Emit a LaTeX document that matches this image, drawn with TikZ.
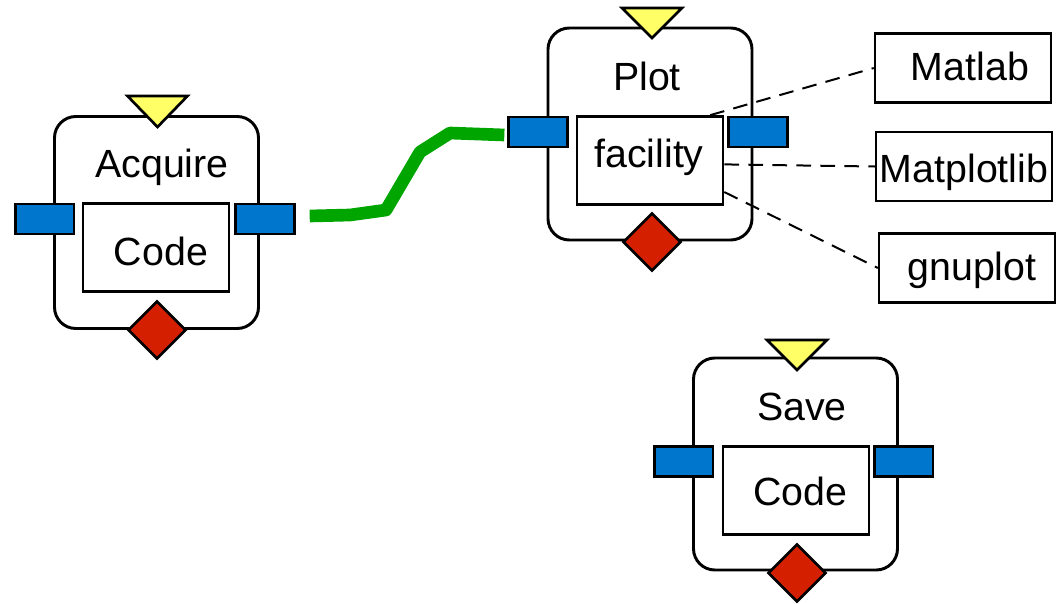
\documentclass[tikz,border=0pt]{standalone}
\usepackage{fontspec}
\setmainfont{Liberation Sans}
\usetikzlibrary{shapes.geometric,calc}
\definecolor{portblue}{RGB}{0,119,204}
\definecolor{triyellow}{RGB}{255,255,102}
\definecolor{diared}{RGB}{212,32,0}
\definecolor{wiregreen}{RGB}{0,165,0}
\tikzset{
  outerbox/.style={draw, line width=2.2pt, rounded corners=16pt, minimum width=153pt, minimum height=159pt, inner sep=0pt},
  innerbox/.style={draw, line width=2pt, fill=white, minimum width=109.5pt, minimum height=66pt, inner sep=0pt},
  portbox/.style={draw, line width=2pt, fill=portblue, minimum width=44pt, minimum height=22.5pt, inner sep=0pt},
  extbox/.style={draw, line width=1.8pt, fill=white, minimum width=132pt, minimum height=52pt, inner sep=0pt},
  errdia/.style={draw, line width=2pt, fill=diared, diamond, aspect=1, minimum size=43.5pt, inner sep=0pt},
  trishape/.style={draw, line width=2pt, fill=triyellow, line join=miter},
  lbl/.style={font=\fontsize{29.5}{35}\selectfont, inner sep=0pt, anchor=base},
  dashline/.style={line width=1.5pt, dash pattern=on 11pt off 7pt},
  wire/.style={draw=wiregreen, line width=9.5pt, line join=round}
}
\begin{document}
\begin{tikzpicture}[x=0.75pt,y=-0.75pt]
\useasboundingbox (0,0) rectangle (1063,603);

% ---------- Acquire ----------
\node[outerbox] (acq) at (156.5,222.5) {};
\node[innerbox] (acqin) at (156,247.5) {};
\node[lbl] (acqt) at (162,177) {Acquire};
\node[lbl] (acqc) at (161,265) {Code};
\node[portbox] (acqL) at (44.5,219) {};
\node[portbox] (acqR) at (265,219) {};
\node[errdia] (acqD) at (157,330) {};
\draw[trishape] (127.5,96) -- (187.5,96) -- (157.5,127) -- cycle;

% ---------- Plot ----------
\node[outerbox] (plt) at (650,134) {};
\node[innerbox] (fac) at (650,160.5) {};
\node[lbl] (pltt) at (647,90) {Plot};
\node[lbl] (facc) at (649,167) {facility};
\node[portbox] (pltL) at (538,132) {};
\node[portbox] (pltR) at (758,132) {};
\node[errdia] (pltD) at (652,242) {};
\draw[trishape] (622,8) -- (682,8) -- (652,38) -- cycle;

% ---------- Save ----------
\node[outerbox] (sav) at (795.5,464) {};
\node[innerbox] (savin) at (796,490.5) {};
\node[lbl] (savt) at (802,420) {Save};
\node[lbl] (savc) at (800.5,505) {Code};
\node[portbox] (savL) at (683.5,461.5) {};
\node[portbox] (savR) at (903.5,461.5) {};
\node[errdia] (savD) at (797,573) {};
\draw[trishape] (767,340) -- (827,340) -- (797,370) -- cycle;

% ---------- external tools ----------
\node[extbox] (mat) at (963,68) {};
\node[lbl] at (970,80) {Matlab};
\node[extbox] (mpl) at (964,166.5) {};
\node[lbl] at (964,182) {Matplotlib};
\node[extbox] (gnu) at (967,268) {};
\node[lbl] at (972,280) {gnuplot};

\draw[dashline] (fac.37) -- (mat.west);
\draw[dashline] (fac.-3) -- (mpl.west);
\draw[dashline] (fac.-23) -- (gnu.west);

% ---------- green connector ----------
\draw[wire] ($(acqR.east)+(14,-3)$) -- (350,215) -- (386,210) -- (420,152) -- (450,133) -- ($(pltL.west)+(-3,3)$);
\end{tikzpicture}
\end{document}
